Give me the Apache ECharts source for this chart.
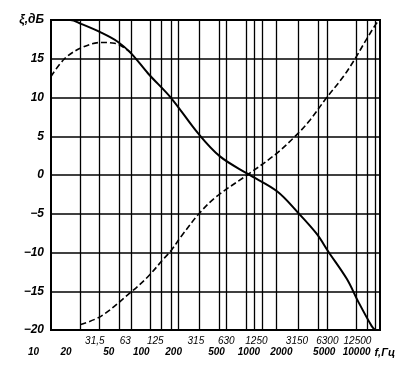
<!DOCTYPE html>
<html><head><meta charset="utf-8">
<script src="https://cdn.jsdelivr.net/npm/echarts@6/dist/echarts.min.js"></script>
<style>html,body{margin:0;padding:0;background:#fff}#c{width:396px;height:380px}</style>
</head><body><div id="c"></div>
<script>
// Solid curve (falls with frequency)
const solidFreq = [11.6, 18, 23, 36, 53, 72, 106, 180, 330, 545, 1040, 2000, 3250, 4950, 6450, 9800, 12800, 17300, 18700];
const solidVals = [20, 20, 19.5, 18.4, 17.2, 15.7, 13.1, 9.9, 5.4, 2.4, 0.1, -2.1, -4.9, -7.6, -9.9, -13.4, -16.4, -19.5, -20];
// Dashed curve (rises with frequency)
const risingFreq = [22.8, 36.4, 72, 106, 149, 180, 226, 343, 501, 1040, 1990, 3250, 4250, 6210, 9070, 11840, 14870, 18670, 20500];
const risingVals = [-19.3, -18.2, -15.1, -13.1, -10.9, -9.7, -7.9, -4.9, -2.8, 0.1, 2.8, 5.4, 7.1, 10.0, 12.7, 15.0, 17.2, 19.3, 20];
// Dashed low-frequency hump
const humpFreq = [11.6, 15.8, 23.1, 36.4, 49.4, 67, 72];
const humpVals = [12.7, 15.0, 16.4, 17.1, 17.0, 16.1, 15.7];
// Vertical grid lines (Hz)
const gridFreqs = [22.4, 35, 54.6, 71.7, 113, 145, 178, 209, 338, 533, 626, 1009, 1210, 1422, 1956, 3230, 5097, 6256, 12400, 15560, 18700];
// Tick labels
const upperTickFreqs = [31.5, 63, 125, 315, 630, 1250, 3150, 6300, 12500];
const upperTickLabels = ['31,5', '63', '125', '315', '630', '1250', '3150', '6300', '12500'];
const lowerTickFreqs = [10, 20, 50, 100, 200, 500, 1000, 2000, 5000, 10000];
const lowerTickLabels = ['10', '20', '50', '100', '200', '500', '1000', '2000', '5000', '10000'];
const yTicks = [-20, -15, -10, -5, 0, 5, 10, 15, 20];
const yTopLabel = 'ξ,дБ';
const xName = 'f,Гц';
const fMin = 11.6, fMax = 20900;

const L = Math.log10;
const toPts = (fs, vs) => fs.map((f, i) => [L(f), vs[i]]);
const labelFor = (freqs, labels) => v => {
  for (let i = 0; i < freqs.length; i++) if (Math.abs(L(freqs[i]) - v) < 1e-6) return labels[i];
  return '';
};
const FONT = "'Liberation Sans', Arial, sans-serif";

const chart = echarts.init(document.getElementById('c'), null, {renderer: 'canvas'});
chart.setOption({
  animation: false,
  backgroundColor: '#fff',
  grid: [
    {left: 51, right: 16, top: 20, bottom: 50, show: true, borderColor: '#000', borderWidth: 2, backgroundColor: 'transparent'},
    {left: 12, right: 34, top: 300, height: 30, show: false}
  ],
  xAxis: [
    {type: 'value', gridIndex: 0, min: L(fMin), max: L(fMax),
     axisLine: {show: false}, axisTick: {show: false}, splitLine: {show: false},
     axisLabel: {customValues: upperTickFreqs.map(L), formatter: labelFor(upperTickFreqs, upperTickLabels),
       margin: 6, color: '#000', fontSize: 10, fontStyle: 'italic', fontFamily: FONT}},
    {type: 'value', gridIndex: 1, min: 0.8, max: 4.05,
     axisLine: {show: false}, axisTick: {show: false}, splitLine: {show: false},
     axisLabel: {customValues: lowerTickFreqs.map(L), formatter: labelFor(lowerTickFreqs, lowerTickLabels),
       margin: 17, color: '#000', fontSize: 10, fontStyle: 'italic', fontWeight: 'bold', fontFamily: FONT},
     name: xName, nameLocation: 'end', nameGap: 5,
     nameTextStyle: {color: '#000', fontSize: 11, fontStyle: 'italic', fontWeight: 'bold', fontFamily: FONT,
       verticalAlign: 'top', padding: [17, 0, 0, 0]}}
  ],
  yAxis: [
    {type: 'value', gridIndex: 0, min: -20, max: 20, interval: 5,
     axisLine: {show: false}, axisTick: {show: false},
     splitLine: {show: true, lineStyle: {color: '#000', width: 1.5}},
     axisLabel: {customValues: yTicks, margin: 7, color: '#000', fontSize: 12, fontStyle: 'italic', fontWeight: 'bold', fontFamily: FONT,
       formatter: v => v === 20 ? yTopLabel : (v < 0 ? '−' + Math.abs(v) : String(v))}},
    {type: 'value', gridIndex: 1, show: false}
  ],
  series: [
    {type: 'line', name: 'solid', xAxisIndex: 0, yAxisIndex: 0, data: toPts(solidFreq, solidVals),
     smooth: 0.35, showSymbol: false, symbol: 'none',
     lineStyle: {color: '#000', width: 2}, z: 5,
     markLine: {silent: true, symbol: ['none', 'none'], label: {show: false},
       lineStyle: {color: '#000', width: 1.3, type: 'solid'},
       data: gridFreqs.map(f => ({xAxis: L(f)}))}},
    {type: 'line', name: 'rising', xAxisIndex: 0, yAxisIndex: 0, data: toPts(risingFreq, risingVals),
     smooth: 0.35, showSymbol: false, symbol: 'none',
     lineStyle: {color: '#000', width: 1.6, type: [6, 3]}, z: 5},
    {type: 'line', name: 'hump', xAxisIndex: 0, yAxisIndex: 0, data: toPts(humpFreq, humpVals),
     smooth: 0.35, showSymbol: false, symbol: 'none',
     lineStyle: {color: '#000', width: 1.6, type: [6, 3]}, z: 5}
  ]
});
</script>
</body></html>
